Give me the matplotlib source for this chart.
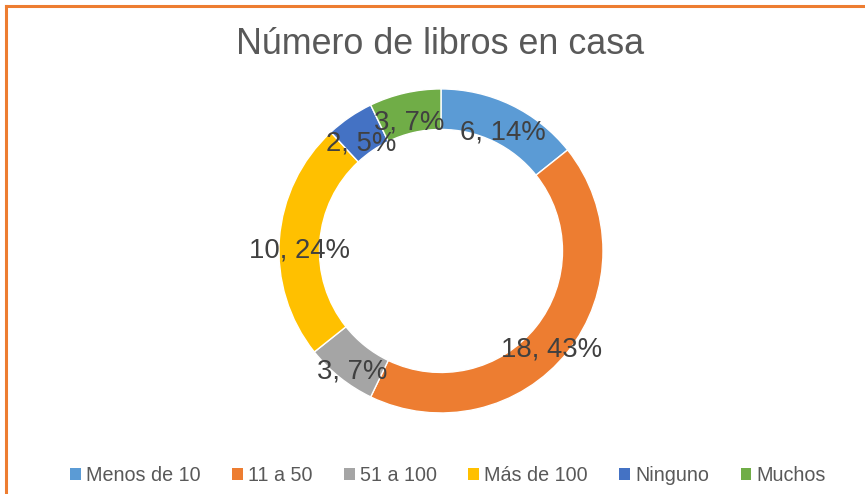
import matplotlib.pyplot as plt
from matplotlib.patches import Patch
import numpy as np

plt.rcParams['font.family'] = ['Liberation Sans', 'DejaVu Sans']

categories = ['Menos de 10', '11 a 50', '51 a 100', 'Más de 100', 'Ninguno', 'Muchos']
values = [6, 18, 3, 10, 2, 3]
percent_labels = ['14%', '43%', '7%', '24%', '5%', '7%']
colors = ['#5B9BD5', '#ED7D31', '#A5A5A5', '#FFC000', '#4472C4', '#70AD47']

fig = plt.figure(figsize=(8.65, 4.94), dpi=100)

# donut axes, centred on the ring in the reference
ax = fig.add_axes([0.3225, 0.164, 0.3746, 0.656])
wedges, _ = ax.pie(values, colors=colors, startangle=90, counterclock=False,
                   radius=1.0, wedgeprops=dict(width=0.25, edgecolor='white', linewidth=1))
ax.set_xlim(-1, 1)
ax.set_ylim(-1, 1)
ax.set_aspect('equal')
ax.axis('off')

# data labels in the middle of the ring (a bit low, like Excel puts them)
for w, v, p in zip(wedges, values, percent_labels):
    ang = np.deg2rad((w.theta1 + w.theta2) / 2)
    r = 0.875
    ax.text(r * np.cos(ang), r * np.sin(ang) - 0.06, f'{v}, {p}', ha='center', va='center',
            fontsize=19.8, color='#404040')

fig.text(0.509, 0.91, 'Número de libros en casa', ha='center', va='center',
         fontsize=25.8, color='#595959')

handles = [Patch(facecolor=c, edgecolor='none') for c in colors]
fig.legend(handles, categories, loc='center', bbox_to_anchor=(0.518, 0.038), ncol=6,
           frameon=False, fontsize=14.2, handlelength=0.55, handleheight=0.55,
           handletextpad=0.25, columnspacing=1.6, labelcolor='#595959')

# orange frame on top and left like the reference
fig.add_artist(plt.Line2D([0.007, 1.0], [0.987, 0.987], color='#ED7D31', linewidth=2.2,
                          transform=fig.transFigure))
fig.add_artist(plt.Line2D([0.0075, 0.0075], [0.0, 0.987], color='#ED7D31', linewidth=2.2,
                          transform=fig.transFigure))

fig.savefig('out.png', dpi=100)
